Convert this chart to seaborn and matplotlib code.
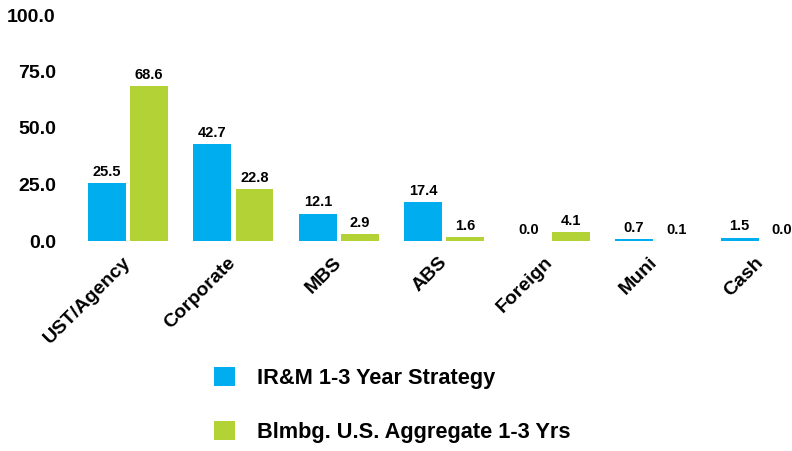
import matplotlib
matplotlib.use("Agg")
import matplotlib.pyplot as plt
import matplotlib.transforms as mtransforms
from matplotlib.patches import Patch
import pandas as pd
import seaborn as sns

categories = ["UST/Agency", "Corporate", "MBS", "ABS", "Foreign", "Muni", "Cash"]
strategy = [25.5, 42.7, 12.1, 17.4, 0.0, 0.7, 1.5]
benchmark = [68.6, 22.8, 2.9, 1.6, 4.1, 0.1, 0.0]
series_names = ["IR&M 1-3 Year Strategy", "Blmbg. U.S. Aggregate 1-3 Yrs"]
colors = ["#00AEEF", "#B2D235"]
y_ticks = [0, 25, 50, 75, 100]

sns.set_theme(style="white")
plt.rcParams["font.family"] = ["Liberation Sans", "DejaVu Sans"]
plt.rcParams["font.weight"] = "bold"
plt.rcParams["text.color"] = "black"
plt.rcParams["xtick.color"] = "black"
plt.rcParams["ytick.color"] = "black"

df = pd.DataFrame({
    "Sector": categories * 2,
    "Weight": strategy + benchmark,
    "Series": [series_names[0]] * len(categories) + [series_names[1]] * len(categories),
})

fig = plt.figure(figsize=(7.92, 4.51), dpi=100)
ax = fig.add_axes([75.25 / 792, 1 - 241 / 451, 717 / 792, 226 / 451])

sns.barplot(data=df, x="Sector", y="Weight", hue="Series", order=categories,
            hue_order=series_names, palette=colors, saturation=1, width=0.8, gap=0.1,
            linewidth=0, errorbar=None, legend=False, ax=ax)

for container in ax.containers:
    ax.bar_label(container, fmt="%.1f", padding=3, fontsize=10.5, fontweight="bold",
                 color="black")

ax.set_ylim(0, 100)
ax.set_xlim(-0.5, 6.3)
ax.set_yticks(y_ticks)
ax.set_yticklabels([f"{v:.1f}" for v in y_ticks], fontsize=14, fontweight="bold")
ax.tick_params(axis="y", length=0, pad=14)

# category names: rotated, hanging just below the baseline, slightly left of centre
ax.set_xticks(range(len(categories)))
ax.set_xticklabels([])
ax.tick_params(axis="x", length=0)
label_tf = mtransforms.blended_transform_factory(ax.transData, ax.transAxes) + \
    mtransforms.ScaledTranslation(-6 / 100, -13 / 100, fig.dpi_scale_trans)
for i, name in enumerate(categories):
    ax.text(i, 0, name, transform=label_tf, rotation=45, rotation_mode="anchor",
            ha="right", va="top", fontsize=14, fontweight="bold", color="black")

ax.set_xlabel("")
ax.set_ylabel("")
for s in ax.spines.values():
    s.set_visible(False)
ax.grid(False)

handles = [Patch(facecolor=c, edgecolor="none") for c in colors]
fig.legend(handles, series_names, loc="upper left",
           bbox_to_anchor=(214 / 792, 1 - 367 / 451), frameon=False,
           prop={"size": 15.7, "weight": "bold"}, handlelength=0.98, handleheight=0.98,
           handletextpad=1.0, labelspacing=1.45, borderpad=0, borderaxespad=0)

fig.savefig("out.png", dpi=100)
